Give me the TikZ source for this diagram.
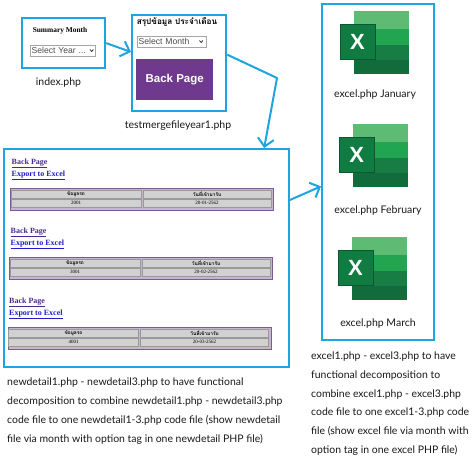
\documentclass[tikz,border=0pt]{standalone}
\usepackage{fontspec}
\setmainfont{Lato}
\newfontfamily\serifpage{Liberation Serif}
\newfontfamily\sanspage{Liberation Sans}
\newfontfamily\thaifont[Script=Thai]{Loma}
\usetikzlibrary{arrows.meta}
\definecolor{framecol}{HTML}{1CA5E2}
\definecolor{purplebtn}{HTML}{6F3A8E}
\definecolor{tablecol}{HTML}{7D5C96}
\definecolor{xlfront}{HTML}{107C41}
\definecolor{xlone}{HTML}{5DBB73}
\definecolor{xltwo}{HTML}{21A550}
\definecolor{xlthree}{HTML}{177D45}
\definecolor{xlfour}{HTML}{116B3A}
\definecolor{backlink}{HTML}{4B2A8C}
\definecolor{exportlink}{HTML}{1F1FC8}
\tikzset{frame/.style={draw=framecol,line width=2.2pt,inner sep=0pt,anchor=north west}}
\tikzset{flow/.style={draw=framecol,line width=2pt,line join=round,
                      -{Straight Barb[length=8pt,width=16pt,line width=2pt]}}}
\tikzset{caption/.style={inner sep=0pt,font=\fontsize{10.5}{12}\selectfont,text=black!90}}
\tikzset{note/.style={caption,anchor=north west,align=left,
                      font=\fontsize{10.45}{18.8}\selectfont}}
\tikzset{link/.style={inner sep=0pt,anchor=west,font=\serifpage\bfseries\fontsize{8}{9}\selectfont}}
\tikzset{selectbox/.style={draw=black!35,fill=white,inner sep=0pt,anchor=north west,
                           font=\sanspage\fontsize{8.6}{10}\selectfont,text=black!70}}
\tikzset{cell/.style={fill=black!18,draw=black!40,line width=.3pt,inner sep=0pt,minimum height=8pt}}
% one page block of the merged detail file
\newcommand{\detailblock}[5]{%
  \begin{scope}[shift={(#1,#2)}]
    \node[link,text=backlink] (back#3) at (11.5,163.5) {\underline{Back Page}};
    \node[link,text=exportlink] (export#3) at (11.5,175.5) {\underline{Export to Excel}};
    \node[draw=tablecol,line width=1pt,fill=tablecol!45,inner sep=0pt,anchor=north west,
          minimum width=263pt,minimum height=22pt] (table#3) at (10,187.5) {};
    \node[cell,minimum width=130pt,font=\thaifont\bfseries\fontsize{4.8}{5}\selectfont] (heada#3) at (76,194) {ข้อมูลรถ};
    \node[cell,minimum width=128pt,font=\thaifont\bfseries\fontsize{4.8}{5}\selectfont] (headb#3) at (207,194) {วันที่เข้ามารับ};
    \node[cell,minimum width=130pt,font=\serifpage\fontsize{5}{5}\selectfont] (vala#3) at (76,203) {#4};
    \node[cell,minimum width=128pt,font=\serifpage\fontsize{5}{5}\selectfont] (valb#3) at (207,203) {#5};
  \end{scope}}
% spreadsheet icon, north west corner of the back sheet at #1,#2
\newcommand{\excelicon}[3]{%
  \begin{scope}[shift={(#1,#2)}]
    \fill[xlone] (0,0) rectangle (55,18);
    \fill[xltwo] (0,18) rectangle (55,34);
    \fill[xlthree] (0,34) rectangle (55,49);
    \fill[xlfour] (0,49) rectangle (55,63);
    \node[fill=xlfront,draw=xlfront!70!black,line width=.3pt,minimum size=35pt,inner sep=0pt,text=white,
          font=\sanspage\bfseries\fontsize{22}{22}\selectfont] (sheet#3) at (3.5,31) {X};
  \end{scope}}
\begin{document}
\begin{tikzpicture}[x=1pt,y=-1pt]
    \useasboundingbox (0,0) rectangle (474,463);
    \fill[white] (0,0) rectangle (474,463);
    % Boxes
    \node[frame,minimum width=83pt,minimum height=50pt] (index) at (21,17) {};
    \node[frame,minimum width=94pt,minimum height=96pt] (merge) at (131,14) {};
    \node[frame,minimum width=285pt,minimum height=218pt] (detail) at (2.5,148) {};
    \node[frame,minimum width=112pt,minimum height=336pt] (excel) at (321,3) {};
    % First page
    \node[inner sep=0pt,font=\serifpage\bfseries\fontsize{7.4}{8}\selectfont] (summary) at (60,31) {Summary Month};
    \node[selectbox,minimum width=65pt,minimum height=11pt,text width=62pt,align=left] (year) at (30,45) {Select Year ...};
    \draw[black!80,line width=.8pt] (90,49.5) -- (91.7,51.5) -- (93.4,49.5);
    \node[caption] (indexlabel) at (58.5,82.5) {index.php};
    % Second page
    \node[inner sep=0pt,font=\thaifont\bfseries\fontsize{8.2}{9}\selectfont] (title) at (177,22) {สรุปข้อมูล ประจำเดือน};
    \node[selectbox,minimum width=69pt,minimum height=11pt,text width=66pt,align=left] (month) at (137,36) {Select Month};
    \draw[black!80,line width=.8pt] (199.5,40.5) -- (201.2,42.5) -- (202.9,40.5);
    \node[fill=purplebtn,minimum width=76.5pt,minimum height=41pt,inner sep=0pt,text=white,
          font=\sanspage\bfseries\fontsize{11.5}{14}\selectfont] (backbtn) at (174.7,79.5) {Back Page};
    \node[caption] (mergelabel) at (178,126) {testmergefileyear1.php};
    % Detail page
    \detailblock{0}{0}{a}{2001}{20-01-2562}
    \detailblock{-1}{69}{b}{3001}{20-02-2562}
    \detailblock{-2.5}{139}{c}{4001}{20-03-2562}
    % Excel files
    \excelicon{354}{11}{a}
    \excelicon{353.3}{123.5}{b}
    \excelicon{352}{236.5}{c}
    \node[caption] (janlabel) at (375,95) {excel.php January};
    \node[caption] (feblabel) at (378,211) {excel.php February};
    \node[caption] (marlabel) at (378,324) {excel.php March};
    % Connectors
    \coordinate (bend) at (277,78);
    \draw[flow] (index.east) -- (merge.167);
    \draw[flow] (merge.10) -- (bend) -- (detail.43.3);
    \draw[flow] (detail.22.5) -- (excel.194);
    % Notes
    \node[note] (leftnote) at (7,378) {newdetail1.php - newdetail3.php to have functional\\
      decomposition to combine newdetail1.php - newdetail3.php\\
      code file to one newdetail1-3.php code file (show newdetail\\
      file via month with option tag in one newdetail PHP file)};
    \node[note] (rightnote) at (311,351.5) {excel1.php - excel3.php to have\\
      functional decomposition to\\
      combine excel1.php - excel3.php\\
      code file to one excel1-3.php code\\
      file (show excel file via month with\\
      option tag in one excel PHP file)};
\end{tikzpicture}
\end{document}
